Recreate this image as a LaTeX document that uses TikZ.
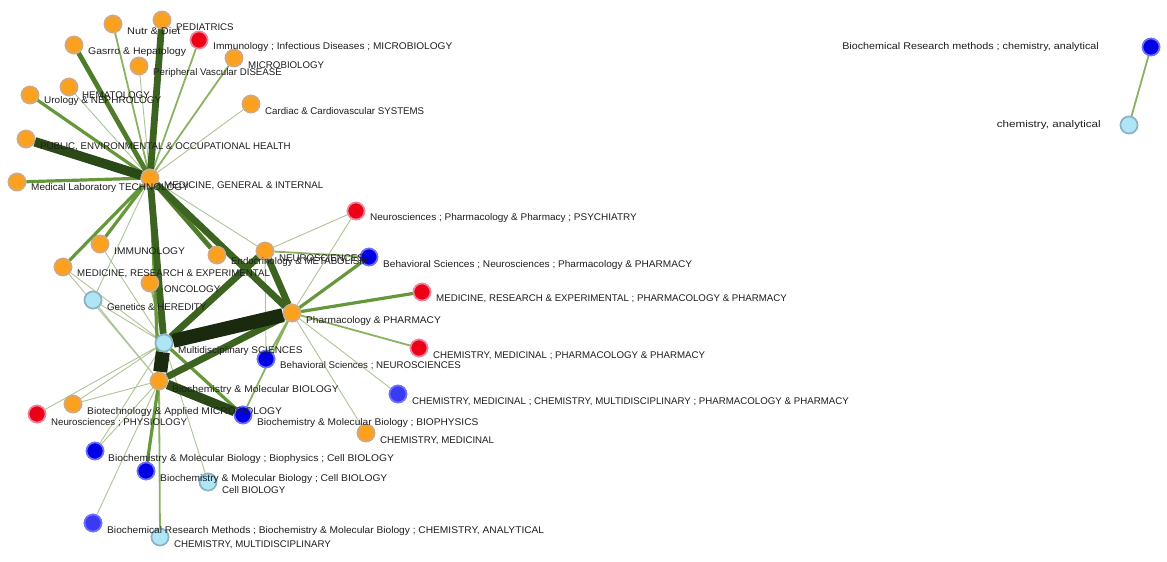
\documentclass[tikz,border=0pt]{standalone}
\usepackage{fontspec}
\setmainfont{Liberation Sans}
\definecolor{ofill}{HTML}{FBA11E}
\definecolor{oline}{HTML}{D2A882}
\definecolor{rfill}{HTML}{EC0018}
\definecolor{rline}{HTML}{F0849A}
\definecolor{bfill}{HTML}{0000E4}
\definecolor{bline}{HTML}{7070FF}
\definecolor{b2fill}{HTML}{3A3AF2}
\definecolor{cfill}{HTML}{AEE6F6}
\definecolor{cline}{HTML}{8CB2C6}
\definecolor{g1}{HTML}{ADC496}
\definecolor{g2}{HTML}{8AB262}
\definecolor{g3}{HTML}{66973A}
\definecolor{g4}{HTML}{4F7C2A}
\definecolor{g5}{HTML}{3D6321}
\definecolor{g6}{HTML}{2B4917}
\definecolor{g7}{HTML}{1A2A0F}
\definecolor{txt}{HTML}{1E1E1E}
\newcommand{\hsc}[2]{\scalebox{#1}[1]{#2}}
\begin{document}
\begin{tikzpicture}[x=1pt,y=-1pt,
  vtx/.style={circle,inner sep=0pt,minimum size=17pt,line width=1.6pt},
  vo/.style={vtx,fill=ofill,draw=oline},
  vr/.style={vtx,fill=rfill,draw=rline},
  vb/.style={vtx,fill=bfill,draw=bline},
  vb2/.style={vtx,fill=b2fill,draw=bline},
  vc/.style={vtx,fill=cfill,draw=cline},
  lab/.style={anchor=west,inner sep=0pt,text=txt,font=\fontsize{9.7}{10}\selectfont},
  labr/.style={anchor=east,inner sep=0pt,text=txt,font=\fontsize{9.7}{10}\selectfont},
  ea/.style={draw=g1,line width=0.9pt},
  eb/.style={draw=g2,line width=1.8pt},
  ec/.style={draw=g3,line width=3.2pt},
  ed/.style={draw=g4,line width=4.8pt},
  ee/.style={draw=g5,line width=6.8pt},
  ef/.style={draw=g6,line width=9.5pt},
  eg/.style={draw=g7,line width=14pt}]
\useasboundingbox (0,0) rectangle (1167,562);
% nodes
\node[vo] (nut) at (113,24) {};
\node[vo] (ped) at (162,20) {};
\node[vo] (gas) at (74,45) {};
\node[vo] (per) at (139,66) {};
\node[vo] (mic) at (234,58) {};
\node[vo] (hem) at (69,87) {};
\node[vo] (uro) at (30,95) {};
\node[vo] (car) at (251,104) {};
\node[vo] (pub) at (26,139) {};
\node[vo] (mlt) at (17,182) {};
\node[vo] (mg) at (150,178) {};
\node[vo] (imm) at (100,244) {};
\node[vo] (mre) at (63,267) {};
\node[vo] (onc) at (150,283) {};
\node[vo] (end) at (217,255) {};
\node[vo] (neu) at (265,251) {};
\node[vo] (pha) at (292,313) {};
\node[vo] (bmb) at (159,381) {};
\node[vo] (bio) at (73,404) {};
\node[vo] (cme) at (366,433) {};
\node[vr] (iim) at (199,40) {};
\node[vr] (npp) at (356,211) {};
\node[vr] (mrp) at (422,292) {};
\node[vr] (cmp) at (419,348) {};
\node[vr] (nph) at (37,414) {};
\node[vb] (bnp) at (369,257) {};
\node[vb] (bns) at (266,359) {};
\node[vb2] (cmm) at (398,394) {};
\node[vb] (bbp) at (243,415) {};
\node[vb] (bbc) at (95,451) {};
\node[vb] (bcb) at (146,471) {};
\node[vb2] (brm) at (93,523) {};
\node[vb] (brc) at (1151,47) {};
\node[vc] (gen) at (93,300) {};
\node[vc] (mul) at (164,343) {};
\node[vc] (cel) at (208,482) {};
\node[vc] (cmu) at (160,537) {};
\node[vc] (can) at (1129,125) {};
% edges
\path[ea] (mg) -- (per) (mg) -- (car) (mg) -- (gen) (mg) -- (neu) (mg) -- (hem)
  (imm) -- (mul) (mre) -- (mul) (gen) -- (bmb) (gen) -- (mul) (nph) -- (mul) (bio) -- (mul) (bio) -- (bmb)
  (bbc) -- (mul) (bbc) -- (bmb) (brm) -- (bmb) (cel) -- (mul) (neu) -- (npp) (neu) -- (bns)
  (pha) -- (npp) (pha) -- (cmm) (pha) -- (cme) (mre) -- (bmb);
\path[eb] (mg) -- (nut) (mg) -- (iim) (mg) -- (mic) (onc) -- (mul) (neu) -- (bnp)
  (pha) -- (bns) (pha) -- (bbp) (pha) -- (cmp) (cmu) -- (bmb) (brc) -- (can);
\path[ec] (mg) -- (uro) (mg) -- (mlt) (mg) -- (imm) (mg) -- (mre) (mg) -- (bmb)
  (pha) -- (bnp) (pha) -- (mrp) (bcb) -- (bmb) (mul) -- (bbp);
\path[ed] (mg) -- (gas) (mg) -- (end);
\path[ee] (mg) -- (ped) (mg) -- (mul) (mg) -- (pha) (mul) -- (neu) (neu) -- (pha) (bmb) -- (pha);
\path[ef] (mg) -- (pub) (bmb) -- (bbp);
\path[eg] (mul) -- (pha) (mul) -- (bmb);
% redraw nodes on top of the connectors
\foreach \n/\s in {nut/vo,ped/vo,gas/vo,per/vo,mic/vo,hem/vo,uro/vo,car/vo,pub/vo,mlt/vo,mg/vo,imm/vo,mre/vo,onc/vo,end/vo,neu/vo,pha/vo,bmb/vo,bio/vo,cme/vo,iim/vr,npp/vr,mrp/vr,cmp/vr,nph/vr,bnp/vb,bns/vb,cmm/vb2,bbp/vb,bbc/vb,bcb/vb,brm/vb2,brc/vb,gen/vc,mul/vc,cel/vc,cmu/vc,can/vc}
  {\node[\s] at (\n) {};}
% labels
\node[lab] (lnut) at (127,31) {\hsc{1.12}{Nutr \& Diet}};
\node[lab] (lped) at (176,27) {PEDIATRICS};
\node[lab] (lgas) at (88,52) {\hsc{1.08}{Gasrro \& Hepatology}};
\node[lab] (lper) at (153,73) {Peripheral Vascular DISEASE};
\node[lab] (liim) at (213,47) {\hsc{1.044}{Immunology ; Infectious Diseases ; MICROBIOLOGY}};
\node[lab] (lmic) at (248,65) {MICROBIOLOGY};
\node[lab] (lhem) at (82,95) {HEMATOLOGY};
\node[lab] (luro) at (44,101) {\hsc{1.03}{Urology \& NEPHROLOGY}};
\node[lab] (lcar) at (265,111) {Cardiac \& Cardiovascular SYSTEMS};
\node[lab] (lpub) at (40,147) {PUBLIC, ENVIRONMENTAL \& OCCUPATIONAL HEALTH};
\node[lab] (lmlt) at (31,188) {\hsc{1.03}{Medical Laboratory TECHNOLOGY}};
\node[lab] (lmg) at (164,186) {MEDICINE, GENERAL \& INTERNAL};
\node[lab] (limm) at (114,251) {\hsc{1.05}{IMMUNOLOGY}};
\node[lab] (lmre) at (77,274) {MEDICINE, RESEARCH \& EXPERIMENTAL};
\node[lab] (lonc) at (164,289) {ONCOLOGY};
\node[lab] (lend) at (231,262) {Endocrinology \& METABOLISM};
\node[lab] (lneu) at (279,258) {NEUROSCIENCES};
\node[lab] (lpha) at (306,321) {\hsc{1.045}{Pharmacology \& PHARMACY}};
\node[lab] (lbmb) at (172,390) {\hsc{1.07}{Biochemistry \& Molecular BIOLOGY}};
\node[lab] (lbio) at (87,412) {\hsc{1.06}{Biotechnology \& Applied MICROBIOLOGY}};
\node[lab] (lcme) at (380,441) {CHEMISTRY, MEDICINAL};
\node[lab] (lnpp) at (370,218) {\hsc{1.03}{Neurosciences ; Pharmacology \& Pharmacy ; PSYCHIATRY}};
\node[lab] (lmrp) at (436,299) {MEDICINE, RESEARCH \& EXPERIMENTAL ; PHARMACOLOGY \& PHARMACY};
\node[lab] (lcmp) at (433,356) {CHEMISTRY, MEDICINAL ; PHARMACOLOGY \& PHARMACY};
\node[lab] (lnph) at (51,423) {Neurosciences ; PHYSIOLOGY};
\node[lab] (lbnp) at (383,265) {\hsc{1.04}{Behavioral Sciences ; Neurosciences ; Pharmacology \& PHARMACY}};
\node[lab] (lbns) at (280,366) {Behavioral Sciences ; NEUROSCIENCES};
\node[lab] (lcmm) at (412,402) {CHEMISTRY, MEDICINAL ; CHEMISTRY, MULTIDISCIPLINARY ; PHARMACOLOGY \& PHARMACY};
\node[lab] (lbbp) at (257,423) {\hsc{1.047}{Biochemistry \& Molecular Biology ; BIOPHYSICS}};
\node[lab] (lbbc) at (108,459) {\hsc{1.06}{Biochemistry \& Molecular Biology ; Biophysics ; Cell BIOLOGY}};
\node[lab] (lbcb) at (160,479) {\hsc{1.056}{Biochemistry \& Molecular Biology ; Cell BIOLOGY}};
\node[lab] (lbrm) at (107,531) {\hsc{1.05}{Biochemical Research Methods ; Biochemistry \& Molecular Biology ; CHEMISTRY, ANALYTICAL}};
\node[labr] (lbrc) at (1099,47) {\hsc{1.11}{Biochemical Research methods ; chemistry, analytical}};
\node[lab] (lgen) at (107,307) {Genetics \& HEREDITY};
\node[lab] (lmul) at (178,351) {\hsc{1.03}{Multidisciplinary SCIENCES}};
\node[lab] (lcel) at (222,490) {Cell BIOLOGY};
\node[lab] (lcmu) at (174,545) {CHEMISTRY, MULTIDISCIPLINARY};
\node[labr] (lcan) at (1101,125) {\hsc{1.2}{chemistry, analytical}};
\end{tikzpicture}
\end{document}
